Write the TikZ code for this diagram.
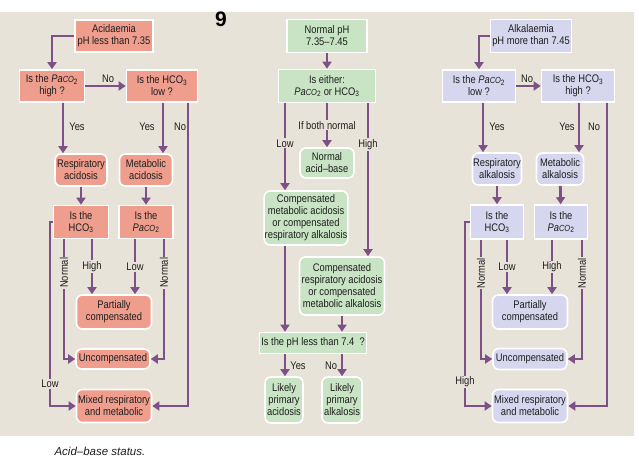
\documentclass[tikz,border=0pt]{standalone}
\usepackage{fontspec}
\setmainfont{Liberation Sans}
\newfontfamily\condf[FakeStretch=0.85,Ligatures=TeX]{Liberation Sans}
\usetikzlibrary{arrows.meta}
\definecolor{bgc}{HTML}{E8E3D8}
\definecolor{salm}{HTML}{EF9E8E}
\definecolor{mint}{HTML}{C8E4C4}
\definecolor{lilac}{HTML}{D6D6EE}
\definecolor{purp}{HTML}{7D5087}
\definecolor{txc}{HTML}{1E1E1E}
\newcommand\lab{\condf\fontsize{11}{12}\selectfont}
\newcommand\pcox{{\itshape Pa\fontsize{8.8}{8}\selectfont CO}\textsubscript{2}}
\newcommand\hcox{HCO\textsubscript{3}}
\tikzset{
  qbox/.style={draw=white, line width=1.6pt, inner sep=0.5pt, align=center, font=\lab, text=txc},
  rbox/.style={qbox, rounded corners=6pt},
  fs/.style={fill=salm}, fg/.style={fill=mint}, fl/.style={fill=lilac},
  arr/.style={draw=purp, line width=2.8pt, -{Triangle[length=7pt,width=9pt]}},
  onl/.style={fill=bgc, inner sep=1.2pt, font=\lab, text=txc, draw=none},
  txl/.style={inner sep=0pt, font=\lab, text=txc},
}
\begin{document}
\begin{tikzpicture}[x=1pt,y=-1pt]
\useasboundingbox (0,0) rectangle (639,462);
\fill[bgc] (0,12) rectangle (634,436);
\node[font=\bfseries\fontsize{21}{21}\selectfont, text=black] (num) at (221,19) {9};
\node[font=\itshape\fontsize{11.5}{12}\selectfont, text=txc, anchor=west] (cap) at (51,451) {Acid–base status.};

% x positions
\coordinate (xA) at (63,0); \coordinate (xB) at (163,0); \coordinate (xC) at (188,0);
\coordinate (xD) at (50,0); \coordinate (xE) at (64,0); \coordinate (xF) at (92,0);
\coordinate (xG) at (135,0); \coordinate (xH) at (164,0);
\coordinate (xL) at (285,0); \coordinate (xM) at (327,0); \coordinate (xN) at (368,0); \coordinate (xP) at (342,0);
\coordinate (yA) at (483,0); \coordinate (yB) at (579,0); \coordinate (yC) at (607,0);
\coordinate (yD) at (465,0); \coordinate (yE) at (481,0); \coordinate (yF) at (507,0);
\coordinate (yG) at (552,0); \coordinate (yH) at (582,0);

% ---------- left column ----------
\node[qbox,fs,minimum width=78pt,minimum height=32pt] (acid) at (114,36) {Acidaemia\\pH less than 7.35};
\node[qbox,fs,minimum width=65pt,minimum height=32pt] (lq1) at (52,86) {Is the \pcox\\high ?};
\node[qbox,fs,minimum width=71pt,minimum height=32pt] (lq2) at (162,86) {Is the \hcox\\low ?};
\node[rbox,fs,minimum width=52pt,minimum height=32pt] (lresp) at (81,170) {Respiratory\\acidosis};
\node[rbox,fs,minimum width=53pt,minimum height=32pt] (lmet) at (146,170) {Metabolic\\acidosis};
\node[qbox,fs,minimum width=55pt,minimum height=33pt] (lq3) at (81,222) {Is the\\\hcox};
\node[qbox,fs,minimum width=54pt,minimum height=33pt] (lq4) at (146,222) {Is the\\\pcox};
\node[rbox,fs,minimum width=75pt,minimum height=34pt] (lpart) at (114,312) {Partially\\compensated};
\node[rbox,fs,minimum width=74pt,minimum height=20pt] (lunc) at (113,359) {Uncompensated};
\node[rbox,fs,minimum width=75pt,minimum height=33pt] (lmix) at (114,406) {Mixed respiratory\\and metabolic};

\draw[arr] (acid.west) -| (lq1.north);
\draw[arr] (lq1.east) -- (lq2.west);
\node[txl] (lno1) at (108,79) {No};
\draw[arr] (lq1.south -| xA) -- (lresp.north -| xA);
\node[txl] (lyes1) at (77,127) {Yes};
\draw[arr] (lq2.south -| xB) -- (lmet.north -| xB);
\node[txl] (lyes2) at (147,127) {Yes};
\draw[arr] (lq2.south -| xC) -- (lmix.east -| xC) -- (lmix.east);
\node[txl] (lno2) at (180,127) {No};
\draw[arr] (lresp) -- (lq3);
\draw[arr] (lmet) -- (lq4);
\draw[arr] (lq3.west) -- (lq3.west -| xD) -- node[onl,pos=0.88]{Low} (lmix.west -| xD) -- (lmix.west);
\draw[arr] (lq3.south -| xE) -- node[onl,rotate=90,pos=0.28]{Normal} (lunc.west -| xE) -- (lunc.west);
\draw[arr] (lq3.south -| xF) -- node[onl]{High} (lpart.north -| xF);
\draw[arr] (lq4.south -| xG) -- node[onl]{Low} (lpart.north -| xG);
\draw[arr] (lq4.south -| xH) -- node[onl,rotate=90,pos=0.28]{Normal} (lunc.east -| xH) -- (lunc.east);

% ---------- middle column ----------
\node[qbox,fg,minimum width=80pt,minimum height=33pt] (nph) at (327,36) {Normal pH\\7.35–7.45};
\node[qbox,fg,minimum width=97pt,minimum height=33pt] (either) at (327,86) {Is either:\\\pcox{} or \hcox};
\node[rbox,fg,minimum width=54pt,minimum height=30pt] (nab) at (327,163) {Normal\\acid–base};
\node[rbox,fg,minimum width=83pt,minimum height=54pt] (comp1) at (306,218) {Compensated\\metabolic acidosis\\or compensated\\respiratory alkalosis};
\node[rbox,fg,minimum width=85pt,minimum height=58pt] (comp2) at (342,286) {Compensated\\respiratory acidosis\\or compensated\\metabolic alkalosis};
\node[qbox,fg,minimum width=107pt,minimum height=21pt] (phq) at (313,343) {Is the pH less than 7.4\ \ ?};
\node[rbox,fg,minimum width=38pt,minimum height=46pt] (lpa) at (284,400) {Likely\\primary\\acidosis};
\node[rbox,fg,minimum width=40pt,minimum height=46pt] (lpk) at (342,400) {Likely\\primary\\alkalosis};

\draw[arr] (nph) -- (either);
\draw[arr] (either.south -| xL) -- node[onl,pos=0.46]{Low} (comp1.north -| xL);
\draw[arr] (either.south -| xM) -- node[onl]{If both normal} (nab.north);
\draw[arr] (either.south -| xN) -- node[onl,pos=0.27]{High} (comp2.north -| xN);
\draw[arr] (comp1.south -| xL) -- (phq.north -| xL);
\draw[arr] (comp2.south -| xP) -- (phq.north -| xP);
\draw[arr] (phq.south -| xL) -- (lpa.north -| xL);
\draw[arr] (phq.south -| xP) -- (lpk.north -| xP);
\node[txl] (myes) at (298,366) {Yes};
\node[txl] (mno) at (331,366) {No};

% ---------- right column ----------
\node[qbox,fl,minimum width=81pt,minimum height=33pt] (alk) at (531,36) {Alkalaemia\\pH more than 7.45};
\node[qbox,fl,minimum width=73pt,minimum height=32pt] (rq1) at (479,86) {Is the \pcox\\low ?};
\node[qbox,fl,minimum width=73pt,minimum height=32pt] (rq2) at (578,86) {Is the \hcox\\high ?};
\node[rbox,fl,minimum width=49pt,minimum height=32pt] (rresp) at (497,169) {Respiratory\\alkalosis};
\node[rbox,fl,minimum width=47pt,minimum height=32pt] (rmet) at (560,169) {Metabolic\\alkalosis};
\node[qbox,fl,minimum width=53pt,minimum height=34pt] (rq3) at (497,222) {Is the\\\hcox};
\node[qbox,fl,minimum width=53pt,minimum height=34pt] (rq4) at (561,222) {Is the\\\pcox};
\node[rbox,fl,minimum width=75pt,minimum height=34pt] (rpart) at (530,312) {Partially\\compensated};
\node[rbox,fl,minimum width=74pt,minimum height=21pt] (runc) at (530,359) {Uncompensated};
\node[rbox,fl,minimum width=75pt,minimum height=33pt] (rmix) at (530,406) {Mixed respiratory\\and metabolic};

\draw[arr] (alk.west) -| (rq1.north);
\draw[arr] (rq1.east) -- (rq2.west);
\node[txl] (rno1) at (527,79) {No};
\draw[arr] (rq1.south -| yA) -- (rresp.north -| yA);
\node[txl] (ryes1) at (497,127) {Yes};
\draw[arr] (rq2.south -| yB) -- (rmet.north -| yB);
\node[txl] (ryes2) at (567,127) {Yes};
\draw[arr] (rq2.south -| yC) -- (rmix.east -| yC) -- (rmix.east);
\node[txl] (rno2) at (594,127) {No};
\draw[arr] (rresp) -- (rq3);
\draw[arr] (rmet) -- (rq4);
\draw[arr] (rq3.west) -- (rq3.west -| yD) -- node[onl,pos=0.87]{High} (rmix.west -| yD) -- (rmix.west);
\draw[arr] (rq3.south -| yE) -- node[onl,rotate=90,pos=0.28]{Normal} (runc.west -| yE) -- (runc.west);
\draw[arr] (rq3.south -| yF) -- node[onl]{Low} (rpart.north -| yF);
\draw[arr] (rq4.south -| yG) -- node[onl]{High} (rpart.north -| yG);
\draw[arr] (rq4.south -| yH) -- node[onl,rotate=90,pos=0.28]{Normal} (runc.east -| yH) -- (runc.east);
\end{tikzpicture}
\end{document}
